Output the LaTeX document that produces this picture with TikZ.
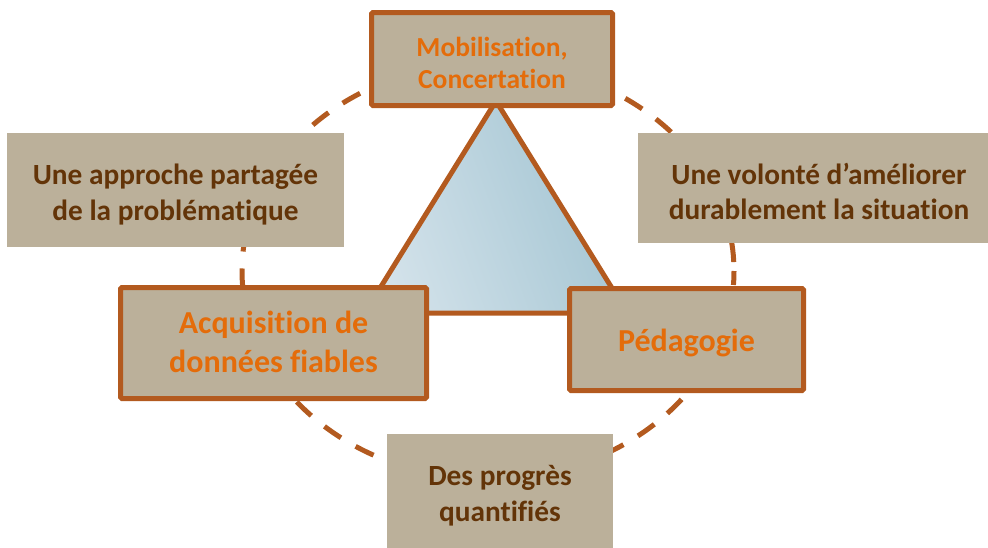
\documentclass[tikz,border=0pt]{standalone}
\usepackage{fontspec}
\setmainfont{Carlito}[Ligatures=NoCommon]
\definecolor{tan}{HTML}{BBB09A}
\definecolor{bord}{HTML}{B35A1F}
\definecolor{orangetxt}{HTML}{E46C0A}
\definecolor{browntxt}{HTML}{633408}
\definecolor{trilight}{HTML}{D3E2EA}
\definecolor{tridark}{HTML}{A2C4D2}
\tikzset{
  keybox/.style={rectangle, fill=tan, draw=bord, line width=5pt, rounded corners=1.5pt, inner sep=0pt},
  plainbox/.style={rectangle, fill=tan, inner sep=0pt},
  plaintext/.style={inner sep=0pt, align=center, text=browntxt, font=\fontsize{29.3}{35.5}\selectfont\bfseries},
  keytext/.style={inner sep=0pt, align=center, text=orangetxt, font=\fontsize{32}{38.5}\selectfont\bfseries},
}
\begin{document}
\begin{tikzpicture}[x=1pt,y=-1pt]
\useasboundingbox (0,0) rectangle (988,547);
% dashed ellipse
\draw[bord, line width=5pt, dash pattern=on 20pt off 17pt, dash phase=6pt] (488,271) ellipse [x radius=246, y radius=208];
% triangle
\coordinate (apex) at (496,101);
\coordinate (bl) at (364.6,313);
\coordinate (br) at (627.4,313);
\shade[left color=trilight, right color=tridark, shading angle=110] (apex) -- (bl) -- (br) -- cycle;
\draw[bord, line width=5pt, line join=miter] (apex) -- (bl) -- (br) -- cycle;
% plain boxes
\node[plainbox, minimum width=337, minimum height=114] (approche) at (175.5,190) {};
\node[plaintext, yshift=-4.5pt] (approcheT) at (approche.center) {Une approche partagée\\de la problématique};
\node[plainbox, minimum width=362, minimum height=110] (volonte) at (819,188) {};
\node[plaintext, yshift=-3.5pt] (volonteT) at (volonte.center) {Une volonté d’améliorer\\durablement la situation};
\node[plainbox, minimum width=226, minimum height=126] (progres) at (500,497) {};
\node[plaintext, yshift=1.5pt] (progresT) at (progres.center) {Des progrès\\quantifiés};
% key boxes
\node[keybox, minimum width=241, minimum height=93] (mobil) at (492,59) {};
\node[keytext, font=\fontsize{27.5}{32}\selectfont\bfseries, yshift=-3.5pt] (mobilT) at (mobil.center) {Mobilisation,\\Concertation};
\node[keybox, minimum width=306, minimum height=111] (acq) at (273.5,343) {};
\node[keytext, yshift=1pt] (acqT) at (acq.center) {Acquisition de\\données fiables};
\node[keybox, minimum width=234, minimum height=102] (peda) at (686.5,339.5) {};
\node[keytext, yshift=-3pt] (pedaT) at (peda.center) {Pédagogie};
\end{tikzpicture}
\end{document}
